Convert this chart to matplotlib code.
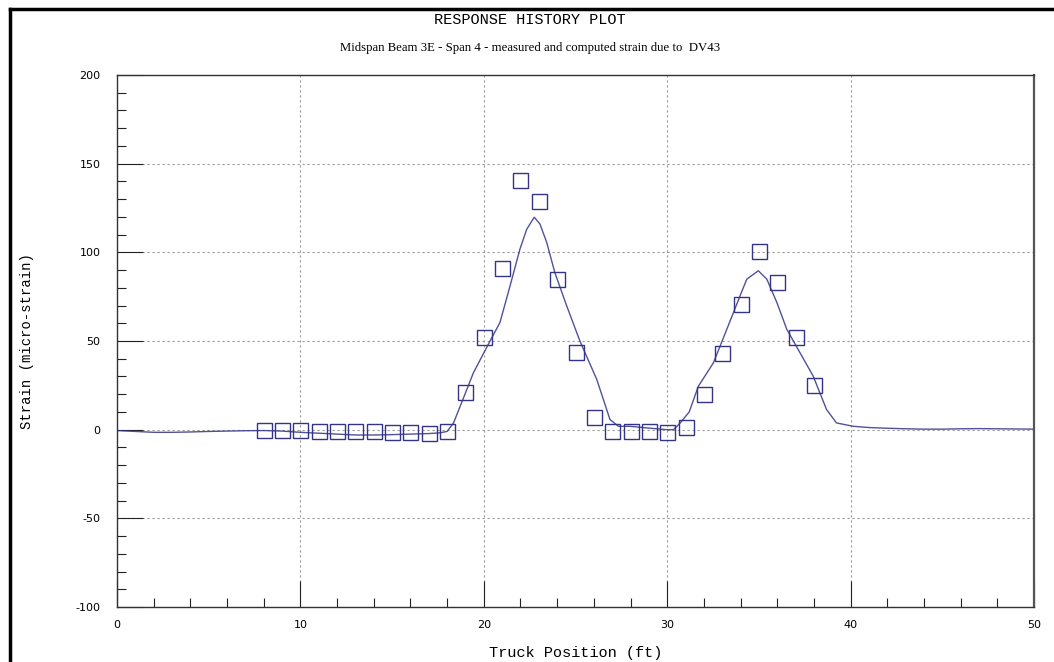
import numpy as np
import matplotlib
matplotlib.use("Agg")
import matplotlib.pyplot as plt
from matplotlib.lines import Line2D
from matplotlib.ticker import MultipleLocator

plt.rcParams['axes.unicode_minus'] = False

# measured strain (squares)
meas_x = list(range(8, 39))
meas_y = [0, 0, 0, -0.5, -0.5, -1, -1, -1.5, -1.5, -2, -1,
          21, 52, 91, 141, 129, 85, 44, 7, -0.5, -1, -1, -1.5,
          1.5, 20, 43, 71, 101, 83, 52, 25]

# computed strain (line)
comp_x = [0, 1, 2, 3, 4, 5, 6, 7, 8, 9, 10, 11, 12, 13, 14, 15, 16, 17, 17.6,
          18.0, 18.35, 19.0, 19.43, 20.34, 20.88, 21.43, 21.97, 22.34, 22.75,
          23.06, 23.43, 23.87, 24.52, 25.24, 26.16, 26.88, 27.34, 27.97, 28.88,
          29.97, 30.35, 30.71, 31.2, 31.7, 32.52, 33.25, 33.97, 34.34, 34.97,
          35.43, 35.98, 36.52, 37.24, 37.96, 38.69, 39.23, 40.14, 41, 42, 43,
          44, 45, 46, 47, 48, 49, 50]
comp_y = [-0.5, -1, -1.5, -1.5, -1.3, -1, -0.8, -0.6, -0.5, -0.8, -1.5, -2,
          -2.5, -3, -3, -2.8, -2.5, -2.2, -1.8, -1, 3.8, 20.7, 32, 50, 60.4,
          81, 101.8, 113, 119.8, 116, 105.6, 88.7, 69.8, 50, 28.3, 5.7, 1.9,
          1.9, 1, 0, 0, 3.8, 10, 24.5, 37.7, 56.6, 75.4, 84.9, 89.6, 84.9,
          71.7, 56.6, 43.4, 30.2, 11.3, 3.8, 1.9, 1.2, 0.8, 0.5, 0.3, 0.3,
          0.5, 0.6, 0.5, 0.4, 0.3]

navy = '#333388'
mono = 'Liberation Mono'

fig = plt.figure(figsize=(10.54, 6.62), dpi=100)
ax = fig.add_axes([117/1054, 1-607/662, (1034-117)/1054, (607-75)/662])

ax.plot(comp_x, comp_y, color=navy, lw=1.0, alpha=0.85)
ax.plot(meas_x, meas_y, 's', ms=10.8, mfc='none', mec=navy, mew=1.0)

ax.set_xlim(0, 50)
ax.set_ylim(-100, 200)
ax.xaxis.set_major_locator(MultipleLocator(10))
ax.xaxis.set_minor_locator(MultipleLocator(2))
ax.yaxis.set_major_locator(MultipleLocator(50))
ax.yaxis.set_minor_locator(MultipleLocator(10))
ax.tick_params(which='major', direction='in', length=19, width=0.8, color='#222222',
               labelsize=8, pad=12, top=False, right=False)
ax.tick_params(which='minor', direction='in', length=6.5, width=0.8, color='#222222',
               top=False, right=False)
ax.tick_params(axis='x', which='major', pad=9)
ax.grid(True, which='major', color='#999999', lw=0.8, linestyle=(0, (2, 2.5)))
for s in ax.spines.values():
    s.set_color('#333333')
    s.set_linewidth(1.0)
ax.spines['right'].set_linewidth(1.6)
ax.spines['right'].set_color('#555555')

ax.set_xlabel('Truck Position (ft)', fontfamily=mono, fontsize=11, labelpad=12)
ax.set_ylabel('Strain (micro-strain)', fontfamily=mono, fontsize=10, labelpad=30)

fig.text(0.503, 1-20/662, 'RESPONSE HISTORY PLOT', ha='center', va='center',
         fontfamily=mono, fontsize=11)
fig.text(0.503, 1-48/662, 'Midspan Beam 3E - Span 4 - measured and computed strain due to  DV43',
         ha='center', va='center', fontfamily='Liberation Serif', fontsize=9.2)

# frame lines left and top
fig.add_artist(Line2D([10/1054, 10/1054], [0, 1-9/662], transform=fig.transFigure,
                      color='black', lw=2.5))
fig.add_artist(Line2D([10/1054, 1], [1-9/662, 1-9/662], transform=fig.transFigure,
                      color='black', lw=2.5))

fig.savefig('out.png', dpi=100)
